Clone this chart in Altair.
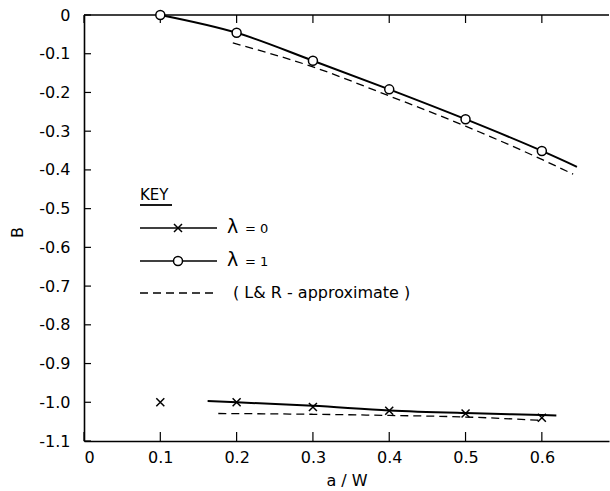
import altair as alt
import pandas as pd

# ---- data ----
x_ticks = [0, 0.1, 0.2, 0.3, 0.4, 0.5, 0.6]
y_ticks = [0, -0.1, -0.2, -0.3, -0.4, -0.5, -0.6, -0.7, -0.8, -0.9, -1.0, -1.1]

# lambda = 1 : measured points and fitted curve
lam1_x = [0.1, 0.2, 0.3, 0.4, 0.5, 0.6]
lam1_b = [0.0, -0.046, -0.118, -0.192, -0.269, -0.351]
lam1_curve_x = [0.1, 0.2, 0.3, 0.4, 0.5, 0.6, 0.646]
lam1_curve_b = [0.0, -0.046, -0.118, -0.192, -0.269, -0.351, -0.392]

# lambda = 0 : measured points and fitted curve
lam0_x = [0.1, 0.2, 0.3, 0.4, 0.5, 0.6]
lam0_b = [-1.0, -1.0, -1.012, -1.022, -1.029, -1.040]
lam0_curve_x = [0.162, 0.2, 0.3, 0.4, 0.5, 0.6, 0.619]
lam0_curve_b = [-0.997, -1.0, -1.009, -1.021, -1.028, -1.033, -1.034]

# L & R approximate (dashed)
lr1_x = [0.195, 0.3, 0.4, 0.5, 0.6, 0.641]
lr1_b = [-0.072, -0.134, -0.209, -0.287, -0.373, -0.411]
lr0_x = [0.176, 0.3, 0.4, 0.5, 0.6015]
lr0_b = [-1.029, -1.031, -1.034, -1.038, -1.047]

FONT = "DejaVu Sans"
W, H = 525, 426
X_DOMAIN = [0, 0.688]
Y_DOMAIN = [-1.1, 0]


def X(field="x"):
    return alt.X(
        f"{field}:Q",
        scale=alt.Scale(domain=X_DOMAIN, nice=False, zero=False),
        axis=alt.Axis(
            values=x_ticks, ticks=False, grid=False,
            labelExpr="datum.value == 0 ? '0' : format(datum.value, '.1f')",
            labelFont=FONT, labelFontSize=16, labelColor="black", labelPadding=8,
            domainColor="black", domainWidth=1.6,
            title="a / W", titleFont=FONT, titleFontSize=16, titleFontWeight="normal",
            titleColor="black", titleBaseline="middle", titleY=39,
        ),
    )


def Y(field="b"):
    return alt.Y(
        f"{field}:Q",
        scale=alt.Scale(domain=Y_DOMAIN, nice=False, zero=False),
        axis=alt.Axis(
            values=y_ticks, ticks=False, grid=False,
            labelExpr="datum.value == 0 ? '0' : '-' + format(-datum.value, '.1f')",
            labelFont=FONT, labelFontSize=16, labelColor="black", labelPadding=14,
            domainColor="black", domainWidth=1.6,
            title="B", titleFont=FONT, titleFontSize=16, titleFontWeight="normal",
            titleColor="black", titleAngle=-90, titleX=-67, titleY=217,
            titleBaseline="middle", titleAlign="center",
        ),
    )


lam1_pts = pd.DataFrame({"x": lam1_x, "b": lam1_b})
lam1_curve = pd.DataFrame({"x": lam1_curve_x, "b": lam1_curve_b})
lam0_pts = pd.DataFrame({"x": lam0_x, "b": lam0_b})
lam0_curve = pd.DataFrame({"x": lam0_curve_x, "b": lam0_curve_b})
lr1 = pd.DataFrame({"x": lr1_x, "b": lr1_b})
lr0 = pd.DataFrame({"x": lr0_x, "b": lr0_b})
xt = pd.DataFrame({"x": x_ticks})
yt = pd.DataFrame({"b": y_ticks})
one = pd.DataFrame({"a": [0]})

CROSS = "M-1,-1L1,1M-1,1L1,-1"

curve1 = alt.Chart(lam1_curve).mark_line(color="black", strokeWidth=2, interpolate="monotone").encode(x=X(), y=Y())
curve0 = alt.Chart(lam0_curve).mark_line(color="black", strokeWidth=2, interpolate="monotone").encode(x=X(), y=Y())
dash1 = alt.Chart(lr1).mark_line(color="black", strokeWidth=1.3, strokeDash=[8, 5], interpolate="monotone").encode(x=X(), y=Y())
dash0 = alt.Chart(lr0).mark_line(color="black", strokeWidth=1.3, strokeDash=[8, 5], interpolate="monotone").encode(x=X(), y=Y())
pts1 = alt.Chart(lam1_pts).mark_point(shape="circle", size=81, filled=True, fill="white", stroke="black", strokeWidth=1.5, opacity=1).encode(x=X(), y=Y())
pts0 = alt.Chart(lam0_pts).mark_point(shape=CROSS, size=64, filled=False, stroke="black", strokeWidth=1.5, opacity=1).encode(x=X(), y=Y())

# inward ticks and top frame
xtick_bottom = alt.Chart(xt).mark_rule(color="black", strokeWidth=1.2).encode(x=X(), y=alt.value(H), y2=alt.value(H - 9))
xtick_top = alt.Chart(xt).mark_rule(color="black", strokeWidth=1.2).encode(x=X(), y=alt.value(0), y2=alt.value(8))
ytick_left = alt.Chart(yt).mark_rule(color="black", strokeWidth=1.2).encode(y=Y(), x=alt.value(0), x2=alt.value(7))
top_frame = alt.Chart(one).mark_rule(color="black", strokeWidth=1.6).encode(x=alt.value(0), x2=alt.value(W), y=alt.value(0))

# key (legend)
LX0, LX1, LMID, TX = 56, 133, 94, 143
key_text = alt.Chart(one).mark_text(text="KEY", font=FONT, fontSize=15, align="left", baseline="middle", color="black").encode(x=alt.value(LX0), y=alt.value(180))
key_line = alt.Chart(one).mark_rule(color="black", strokeWidth=1.8).encode(x=alt.value(LX0), x2=alt.value(88), y=alt.value(190))
k0_line = alt.Chart(one).mark_rule(color="black", strokeWidth=1.6).encode(x=alt.value(LX0), x2=alt.value(LX1), y=alt.value(213))
k0_pt = alt.Chart(one).mark_point(shape=CROSS, size=64, filled=False, stroke="black", strokeWidth=1.5, opacity=1).encode(x=alt.value(LMID), y=alt.value(213))
k0_lam = alt.Chart(one).mark_text(text="λ", font=FONT, fontSize=19, align="left", baseline="middle", color="black").encode(x=alt.value(TX), y=alt.value(212))
k0_txt = alt.Chart(one).mark_text(text="= 0", font=FONT, fontSize=13, align="left", baseline="middle", color="black").encode(x=alt.value(TX + 18), y=alt.value(214))
k1_line = alt.Chart(one).mark_rule(color="black", strokeWidth=1.6).encode(x=alt.value(LX0), x2=alt.value(LX1), y=alt.value(246))
k1_pt = alt.Chart(one).mark_point(shape="circle", size=81, filled=True, fill="white", stroke="black", strokeWidth=1.5, opacity=1).encode(x=alt.value(LMID), y=alt.value(246))
k1_lam = alt.Chart(one).mark_text(text="λ", font=FONT, fontSize=19, align="left", baseline="middle", color="black").encode(x=alt.value(TX), y=alt.value(245))
k1_txt = alt.Chart(one).mark_text(text="= 1", font=FONT, fontSize=13, align="left", baseline="middle", color="black").encode(x=alt.value(TX + 18), y=alt.value(247))
k2_line = alt.Chart(one).mark_rule(color="black", strokeWidth=1.3, strokeDash=[8, 5]).encode(x=alt.value(LX0), x2=alt.value(LX1), y=alt.value(278))
k2_txt = alt.Chart(one).mark_text(text="( L& R - approximate )", font=FONT, fontSize=16, align="left", baseline="middle", color="black").encode(x=alt.value(TX + 6), y=alt.value(278))

chart = alt.layer(
    curve1, curve0, dash1, dash0,
    xtick_bottom, xtick_top, ytick_left, top_frame,
    pts1, pts0,
    key_text, key_line, k0_line, k0_pt, k0_lam, k0_txt,
    k1_line, k1_pt, k1_lam, k1_txt, k2_line, k2_txt,
).properties(
    width=W, height=H,
    autosize=alt.AutoSizeParams(type="none"),
    padding={"left": 84, "top": 15, "right": 1, "bottom": 50},
    background="white",
).configure_view(stroke=None)

chart.save("out.html", embed_options={"renderer": "svg", "actions": False})
